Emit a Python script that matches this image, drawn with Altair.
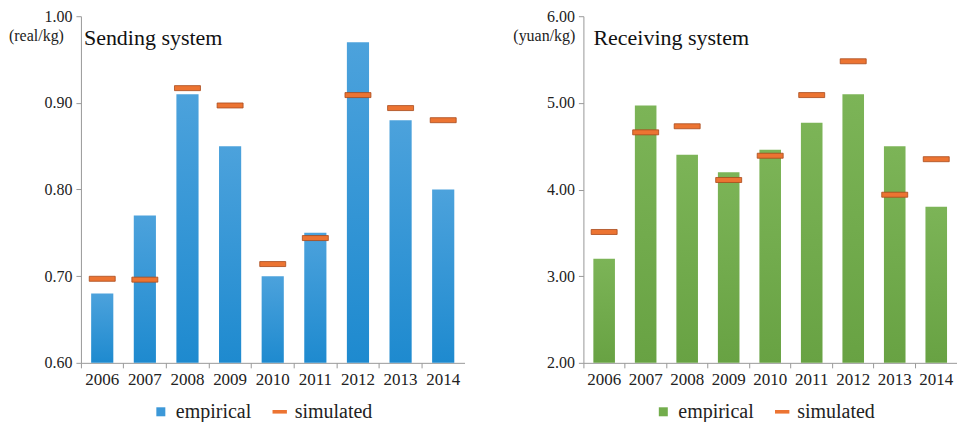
import altair as alt
import pandas as pd

years = ["2006", "2007", "2008", "2009", "2010", "2011", "2012", "2013", "2014"]

send_empirical = [0.68, 0.77, 0.91, 0.85, 0.70, 0.75, 0.97, 0.88, 0.80]
send_simulated = [0.697, 0.696, 0.917, 0.897, 0.714, 0.744, 0.909, 0.894, 0.880]

recv_empirical = [3.20, 4.97, 4.40, 4.20, 4.46, 4.77, 5.10, 4.50, 3.80]
recv_simulated = [3.51, 4.66, 4.73, 4.11, 4.39, 5.09, 5.48, 3.94, 4.35]

series_names = ["empirical", "simulated"]
FONT = "Liberation Serif, Times New Roman, serif"
ORANGE = "#EC7432"


def panel(emp, sim, bar_color, grad_top, grad_bottom, ymin, ymax, yticks, unit, title,
          width, unit_x, title_x):
    df_bar = pd.DataFrame({"year": years, "value": emp, "series": "empirical"})
    df_sim = pd.DataFrame({"year": years, "value": sim, "series": "simulated"})

    xenc = alt.X(
        "year:N",
        sort=years,
        scale=alt.Scale(paddingInner=0.48, paddingOuter=0.24),
        axis=alt.Axis(
            title=None, labelAngle=0, labelFontSize=17, labelFont=FONT,
            labelColor="#222", domainColor="#999", tickColor="#999",
            tickSize=5, bandPosition=-0.46, labelPadding=4,
        ),
    )
    yscale = alt.Scale(domain=[ymin, ymax], nice=False, zero=False)
    yaxis = alt.Axis(
        title=None, values=yticks, format=".2f", labelFont=FONT,
        labelFontSize=16, labelColor="#222", domainColor="#999",
        tickColor="#999", tickSize=5, grid=False, labelPadding=4,
    )
    color = alt.Color(
        "series:N",
        scale=alt.Scale(domain=series_names, range=[bar_color, ORANGE]),
        legend=alt.Legend(
            title=None, orient="none", direction="horizontal",
            legendX=70, legendY=386, labelFontSize=20, labelFont=FONT,
            labelColor="#222", symbolSize=81, labelOffset=5,
            columnPadding=18, symbolStrokeWidth=0,
        ),
    )
    shape = alt.Shape(
        "series:N",
        scale=alt.Scale(
            domain=series_names,
            range=["square", "M-1.6,-0.4L1.6,-0.4L1.6,0.4L-1.6,0.4Z"],
        ),
        legend=alt.Legend(title=None, labelFont=FONT, labelFontSize=20),
    )

    legend_layer = (
        alt.Chart(pd.concat([df_bar, df_sim]))
        .mark_point(filled=True, opacity=1)
        .encode(x=xenc, y=alt.Y("value:Q", scale=yscale, axis=yaxis),
                color=color, shape=shape)
        .transform_filter("datum.value > 1000")
    )
    bars = (
        alt.Chart(df_bar)
        .mark_bar(
            color=alt.Gradient(
                gradient="linear", x1=0, x2=0, y1=0, y2=1,
                stops=[alt.GradientStop(color=grad_top, offset=0),
                       alt.GradientStop(color=grad_bottom, offset=1)],
            )
        )
        .encode(
            x=xenc,
            y=alt.Y("value:Q", scale=yscale, axis=yaxis),
            y2=alt.datum(ymin),
        )
    )
    ticks = (
        alt.Chart(df_sim)
        .mark_tick(thickness=5, size=26, stroke="#A84A1C", strokeWidth=0.8, opacity=1)
        .encode(x=xenc, y=alt.Y("value:Q", scale=yscale, axis=yaxis), color=color)
    )
    unit_text = (
        alt.Chart(pd.DataFrame({"t": [unit]}))
        .mark_text(font=FONT, fontSize=16, align="right", baseline="alphabetic", color="#222")
        .encode(text="t:N", x=alt.value(unit_x), y=alt.value(25))
    )
    title_text = (
        alt.Chart(pd.DataFrame({"t": [title]}))
        .mark_text(font=FONT, fontSize=22, align="left", baseline="alphabetic", color="#111")
        .encode(text="t:N", x=alt.value(title_x), y=alt.value(29))
    )
    return alt.layer(legend_layer, bars, ticks, unit_text, title_text).properties(
        width=width, height=347
    ).resolve_scale(color="shared")


left = panel(send_empirical, send_simulated, "#3C98D8", "#4CA2DC", "#1E8ACF", 0.6, 1.0,
             [0.6, 0.7, 0.8, 0.9, 1.0], "(real/kg)", "Sending system", 384, -17, 3)
right = panel(recv_empirical, recv_simulated, "#73AD4C", "#7CB457", "#68A243", 2.0, 6.0,
              [2.0, 3.0, 4.0, 5.0, 6.0], "(yuan/kg)", "Receiving system", 374, -8, 10)

chart = (
    alt.hconcat(left, right, spacing=48)
    .resolve_scale(color="independent", shape="independent", x="independent", y="independent")
    .properties(padding=0)
    .configure(background="white", font=FONT,
               style={"guide-label": {"font": FONT}, "guide-title": {"font": FONT}})
    .configure_view(stroke=None)
    .configure_axis(labelFont=FONT)
    .configure_legend(labelFont=FONT)
    .configure_text(font=FONT)
)

chart.save("out.html", embed_options={"renderer": "svg", "actions": False})
